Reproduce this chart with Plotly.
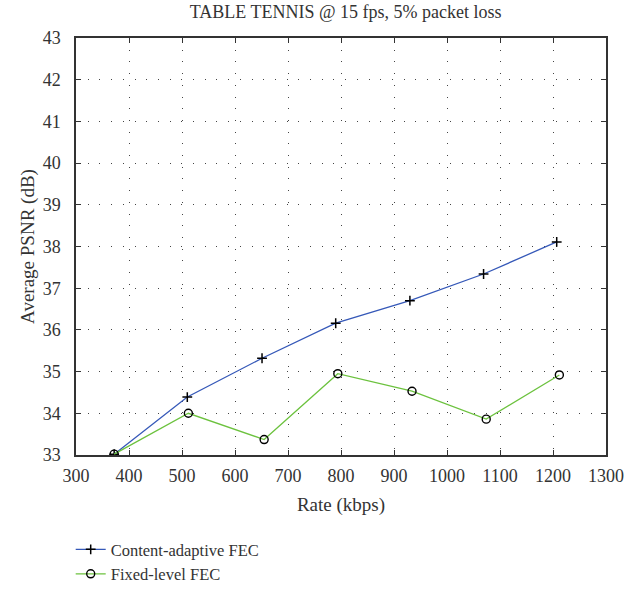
import plotly.graph_objects as go

# Rate (kbps) and average PSNR (dB) for each FEC scheme
rate_adaptive = [372, 510, 651, 790, 930, 1069, 1207]
psnr_adaptive = [33.02, 34.39, 35.32, 36.16, 36.70, 37.34, 38.11]

rate_fixed = [372, 512, 655, 794, 934, 1074, 1212]
psnr_fixed = [33.02, 34.00, 33.37, 34.95, 34.53, 33.86, 34.92]

x_ticks = [300, 400, 500, 600, 700, 800, 900, 1000, 1100, 1200, 1300]
y_ticks = [33, 34, 35, 36, 37, 38, 39, 40, 41, 42, 43]

FONT = "Liberation Serif"
INK = "#333333"

fig = go.Figure()
fig.add_trace(go.Scatter(
    x=rate_adaptive, y=psnr_adaptive, mode="lines+markers",
    name="Content-adaptive FEC",
    line=dict(color="#3558b8", width=1.3),
    marker=dict(symbol="cross-thin", size=7, color="black",
                line=dict(color="black", width=1.5)),
))
fig.add_trace(go.Scatter(
    x=rate_fixed, y=psnr_fixed, mode="lines+markers",
    name="Fixed-level FEC",
    line=dict(color="#6cc23e", width=1.3),
    marker=dict(symbol="circle-open", size=8, color="black",
                line=dict(color="black", width=1.4)),
))

axis_common = dict(
    showline=True, linecolor=INK, linewidth=1.5, mirror="ticks",
    ticks="inside", ticklen=5, tickcolor=INK, tickwidth=1.3,
    showgrid=True, gridcolor="#444444", griddash="1px,10.7px", gridwidth=1,
    zeroline=False,
    tickfont=dict(family=FONT, size=18, color=INK),
)

fig.update_xaxes(range=[300, 1300], tickvals=x_ticks, ticklabelstandoff=4,
                 title=dict(text="Rate (kbps)", font=dict(family=FONT, size=19, color=INK),
                            standoff=12),
                 **axis_common)
fig.update_yaxes(range=[33, 43], tickvals=y_ticks, ticklabelstandoff=10,
                 title=dict(text="Average PSNR (dB)", font=dict(family=FONT, size=19, color=INK),
                            standoff=3),
                 **axis_common)

fig.update_layout(
    width=640, height=589,
    margin=dict(l=76, r=34, t=38, b=134, autoexpand=False),
    paper_bgcolor="white", plot_bgcolor="white",
    title=dict(text="TABLE TENNIS @ 15 fps, 5% packet loss",
               font=dict(family=FONT, size=18, color=INK),
               x=0.54, xanchor="center", y=0.99, yanchor="top"),
    legend=dict(x=-0.01, xanchor="left", y=-0.185, yanchor="top",
                font=dict(family=FONT, size=16.5, color=INK),
                bgcolor="rgba(0,0,0,0)", tracegroupgap=0, itemwidth=30),
    showlegend=True,
)

fig.write_html("out.html")
